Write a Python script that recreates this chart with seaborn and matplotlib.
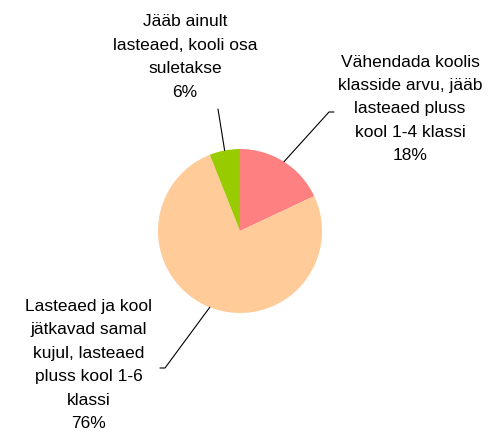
import numpy as np
import seaborn as sns
import matplotlib.pyplot as plt

labels = ["Vähendada koolis\nklasside arvu, jääb\nlasteaed pluss\nkool 1-4 klassi",
          "Lasteaed ja kool\njätkavad samal\nkujul, lasteaed\npluss kool 1-6\nklassi",
          "Jääb ainult\nlasteaed, kooli osa\nsuletakse"]
shares = [18, 76, 6]
colors = ["#FF8080", "#FFCC99", "#99CC00"]

sns.set_theme(style="white")
plt.rcParams['font.family'] = ['Liberation Sans', 'DejaVu Sans']

fig = plt.figure(figsize=(5.01, 4.37), dpi=100)
ax = fig.add_axes([0, 0, 1, 1])

cx, cy, r = 240, 206, 82
wedges, _ = ax.pie(shares, colors=colors, startangle=90, counterclock=False,
                   radius=r, center=(cx, cy), frame=True,
                   wedgeprops=dict(linewidth=0))
ax.set_xlim(0, 501)
ax.set_ylim(0, 437)
ax.set_aspect('equal')
ax.axis('off')

# label position (center of text block) and leader elbow, in pixels from bottom-left
text_pos = [(410, 328), (89, 72), (185, 380)]
elbows = [[(329, 325), (334, 325)], [(165, 69), (160, 69)], [(218, 328)]]

for w, lab, v, (tx, ty), elb in zip(wedges, labels, shares, text_pos, elbows):
    ang = np.deg2rad((w.theta1 + w.theta2) / 2)
    ax0 = cx + r * np.cos(ang)
    ay0 = cy + r * np.sin(ang)
    xs = [ax0] + [p[0] for p in elb]
    ys = [ay0] + [p[1] for p in elb]
    ax.plot(xs, ys, color='black', lw=0.8)
    ax.text(tx, ty, f"{lab}\n{v}%", ha='center', va='center', fontsize=12.5,
            linespacing=1.7, color='black', multialignment='center')

fig.savefig("out.png", dpi=100)
